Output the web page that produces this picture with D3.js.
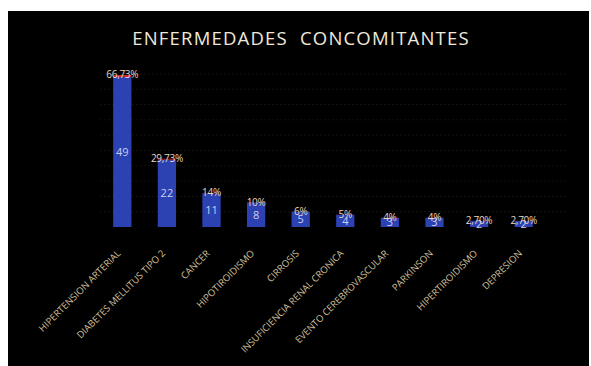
<!DOCTYPE html>
<html>
<head>
<meta charset="utf-8">
<script src="https://cdn.jsdelivr.net/npm/d3@7"></script>
<style>
  html, body { margin: 0; padding: 0; background: #ffffff; }
  svg { display: block; }
</style>
</head>
<body>
<svg id="chart" width="591" height="366"></svg>
<script>
// Concomitant diseases: patient counts and their share of the total
const categories = [
  "HIPERTENSION ARTERIAL", "DIABETES MELLITUS TIPO 2", "CANCER", "HIPOTIROIDISMO",
  "CIRROSIS", "INSUFICIENCIA RENAL CRONICA", "EVENTO CEREBROVASCULAR",
  "PARKINSON", "HIPERTIROIDISMO", "DEPRESION"
];
const counts = [49, 22, 11, 8, 5, 4, 3, 3, 2, 2];
const percents = [66.73, 29.73, 14, 10, 6, 5, 4, 4, 2.70, 2.70];
const percentLabels = ["66,73%", "29,73%", "14%", "10%", "6%", "5%", "4%", "4%", "2,70%", "2,70%"];
const gridTicks = [5, 10, 15, 20, 25, 30, 35, 40, 45, 50];

const svg = d3.select("#chart");

// Black chart panel
svg.append("rect")
  .attr("x", 8).attr("y", 11).attr("width", 581).attr("height", 355)
  .attr("fill", "#000000");

// Title
svg.append("text")
  .attr("x", 301).attr("y", 45)
  .attr("text-anchor", "middle")
  .attr("font-family", "'Open Sans', sans-serif")
  .attr("font-size", 18.5)
  .attr("letter-spacing", 1.2)
  .attr("fill", "#efe9dc")
  .style("white-space", "pre")
  .text("ENFERMEDADES  CONCOMITANTES");

const x = d3.scaleBand()
  .domain(categories)
  .range([100, 546])
  .paddingInner(0.59)
  .paddingOuter(0.295);

const y = d3.scaleLinear()
  .domain([0, 49])
  .range([227, 77]);

// Faint horizontal gridlines
svg.append("g")
  .selectAll("line")
  .data(gridTicks)
  .join("line")
  .attr("x1", 100).attr("x2", 566)
  .attr("y1", d => y(d)).attr("y2", d => y(d))
  .attr("stroke", "#111111")
  .attr("stroke-width", 1)
  .attr("stroke-dasharray", "2,2");

const rows = categories.map((c, i) => ({
  cat: c, count: counts[i], pct: percents[i], pctLabel: percentLabels[i]
}));

// Count bars (blue)
svg.append("g")
  .selectAll("rect")
  .data(rows)
  .join("rect")
  .attr("x", d => x(d.cat))
  .attr("width", x.bandwidth())
  .attr("y", d => y(d.count))
  .attr("height", d => y(0) - y(d.count))
  .attr("fill", "#2c41b2");

// Percentage segment stacked on top (red), in count units
svg.append("g")
  .selectAll("rect")
  .data(rows)
  .join("rect")
  .attr("x", d => x(d.cat))
  .attr("width", x.bandwidth())
  .attr("y", d => y(d.count + d.pct / 100))
  .attr("height", d => y(d.count) - y(d.count + d.pct / 100))
  .attr("fill", "#c8262a");

// Count labels inside bars
svg.append("g")
  .selectAll("text")
  .data(rows)
  .join("text")
  .attr("x", d => x(d.cat) + x.bandwidth() / 2)
  .attr("y", d => (y(d.count) + y(0)) / 2)
  .attr("dy", "0.35em")
  .attr("text-anchor", "middle")
  .attr("font-family", "'Open Sans', sans-serif")
  .attr("font-size", 11)
  .attr("fill", "#c9cff0")
  .text(d => d.count);

// Percentage labels at the top of each bar
svg.append("g")
  .selectAll("text")
  .data(rows)
  .join("text")
  .attr("x", d => x(d.cat) + x.bandwidth() / 2)
  .attr("y", d => y(d.count + d.pct / 100))
  .attr("dy", "0.35em")
  .attr("text-anchor", "middle")
  .attr("font-family", "'Open Sans', sans-serif")
  .attr("font-size", 10)
  .attr("letter-spacing", -0.3)
  .attr("fill", "#e6d6c6")
  .text(d => d.pctLabel);

// Rotated category labels
const xAxis = svg.append("g")
  .attr("transform", `translate(0, ${y(0)})`)
  .call(d3.axisBottom(x).tickSize(0).tickPadding(0));
xAxis.select(".domain").remove();
xAxis.selectAll("text")
  .attr("font-family", "'Open Sans', sans-serif")
  .attr("font-size", 9.5)
  .attr("fill", "#d4c29e")
  .attr("text-anchor", "end")
  .attr("dy", 0)
  .attr("transform", "translate(-1, 27) rotate(-45)");
</script>
</body>
</html>
